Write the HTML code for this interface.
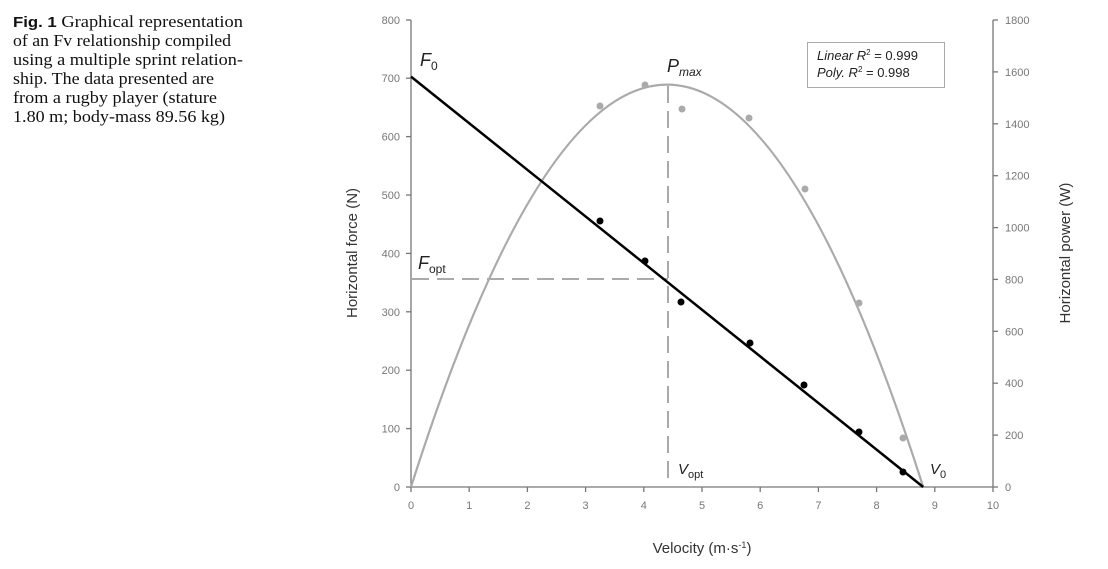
<!DOCTYPE html>
<html><head><meta charset="utf-8"><style>
html,body{margin:0;padding:0;background:#fff;}
body{width:1108px;height:564px;overflow:hidden;}
</style></head><body>
<svg width="1108" height="564" viewBox="0 0 1108 564" xmlns="http://www.w3.org/2000/svg">
<g font-family="Liberation Serif, serif" font-size="16.5" fill="#111" lengthAdjust="spacingAndGlyphs">
<text x="13" y="27" textLength="230" lengthAdjust="spacingAndGlyphs"><tspan font-family="Liberation Sans, sans-serif" font-weight="bold" font-size="15">Fig. 1</tspan>  Graphical representation</text>
<text x="13" y="46" textLength="218" lengthAdjust="spacingAndGlyphs">of an Fv relationship compiled</text>
<text x="13" y="65" textLength="230" lengthAdjust="spacingAndGlyphs">using a multiple sprint relation-</text>
<text x="13" y="84" textLength="201" lengthAdjust="spacingAndGlyphs">ship. The data presented are</text>
<text x="13" y="103" textLength="204" lengthAdjust="spacingAndGlyphs">from a rugby player (stature</text>
<text x="13" y="122" textLength="212" lengthAdjust="spacingAndGlyphs">1.80 m; body-mass 89.56 kg)</text>
</g>
<g stroke="#777" stroke-width="1.3" fill="none">
<line x1="411" y1="20" x2="411" y2="487"/>
<line x1="993" y1="20" x2="993" y2="487"/>
<line x1="411" y1="487" x2="993" y2="487"/>
<line x1="406" y1="487" x2="411" y2="487"/><line x1="406" y1="428.6" x2="411" y2="428.6"/><line x1="406" y1="370.2" x2="411" y2="370.2"/><line x1="406" y1="311.8" x2="411" y2="311.8"/><line x1="406" y1="253.4" x2="411" y2="253.4"/><line x1="406" y1="195" x2="411" y2="195"/><line x1="406" y1="136.6" x2="411" y2="136.6"/><line x1="406" y1="78.2" x2="411" y2="78.2"/><line x1="406" y1="20" x2="411" y2="20"/>
<line x1="993" y1="487" x2="998" y2="487"/><line x1="993" y1="435.1" x2="998" y2="435.1"/><line x1="993" y1="383.2" x2="998" y2="383.2"/><line x1="993" y1="331.3" x2="998" y2="331.3"/><line x1="993" y1="279.4" x2="998" y2="279.4"/><line x1="993" y1="227.6" x2="998" y2="227.6"/><line x1="993" y1="175.7" x2="998" y2="175.7"/><line x1="993" y1="123.8" x2="998" y2="123.8"/><line x1="993" y1="71.9" x2="998" y2="71.9"/><line x1="993" y1="20" x2="998" y2="20"/>
<line x1="411" y1="487" x2="411" y2="492"/><line x1="469.2" y1="487" x2="469.2" y2="492"/><line x1="527.4" y1="487" x2="527.4" y2="492"/><line x1="585.6" y1="487" x2="585.6" y2="492"/><line x1="643.8" y1="487" x2="643.8" y2="492"/><line x1="702" y1="487" x2="702" y2="492"/><line x1="760.2" y1="487" x2="760.2" y2="492"/><line x1="818.4" y1="487" x2="818.4" y2="492"/><line x1="876.6" y1="487" x2="876.6" y2="492"/><line x1="934.8" y1="487" x2="934.8" y2="492"/><line x1="993" y1="487" x2="993" y2="492"/>
</g>
<g font-family="Liberation Sans, sans-serif" font-size="11" fill="#777">
<g text-anchor="end">
<text x="400" y="491">0</text><text x="400" y="432.6">100</text><text x="400" y="374.2">200</text><text x="400" y="315.8">300</text><text x="400" y="257.4">400</text><text x="400" y="199">500</text><text x="400" y="140.6">600</text><text x="400" y="82.2">700</text><text x="400" y="24">800</text>
</g>
<text x="1005" y="491">0</text><text x="1005" y="439.1">200</text><text x="1005" y="387.2">400</text><text x="1005" y="335.3">600</text><text x="1005" y="283.4">800</text><text x="1005" y="231.6">1000</text><text x="1005" y="179.7">1200</text><text x="1005" y="127.8">1400</text><text x="1005" y="75.9">1600</text><text x="1005" y="24">1800</text>
<g text-anchor="middle">
<text x="411" y="509">0</text><text x="469.2" y="509">1</text><text x="527.4" y="509">2</text><text x="585.6" y="509">3</text><text x="643.8" y="509">4</text><text x="702" y="509">5</text><text x="760.2" y="509">6</text><text x="818.4" y="509">7</text><text x="876.6" y="509">8</text><text x="934.8" y="509">9</text><text x="993" y="509">10</text>
</g>
</g>
<g font-family="Liberation Sans, sans-serif" font-size="15" fill="#333" text-anchor="middle">
<text x="702" y="553">Velocity (m·s<tspan font-size="9" dy="-5">-1</tspan><tspan dy="5">)</tspan></text>
<text transform="translate(357,253) rotate(-90)">Horizontal force (N)</text>
<text transform="translate(1070,253) rotate(-90)">Horizontal power (W)</text>
</g>
<g stroke="#aaa" stroke-width="2" fill="none" stroke-dasharray="17,8">
<line x1="412" y1="279" x2="668" y2="279"/>
<line x1="668" y1="86" x2="668" y2="487"/>
</g>
<path d="M411,487 Q667,-317.7 923.2,487" stroke="#aaa" stroke-width="2.2" fill="none"/>
<g fill="#aaa">
<circle cx="600" cy="106" r="3.5"/><circle cx="645" cy="85" r="3.5"/><circle cx="682" cy="109" r="3.5"/><circle cx="749" cy="118" r="3.5"/><circle cx="805" cy="189" r="3.5"/><circle cx="859" cy="303" r="3.5"/><circle cx="903" cy="438" r="3.5"/>
</g>
<line x1="411" y1="76.6" x2="923.2" y2="487" stroke="#000" stroke-width="2.5"/>
<g fill="#000">
<circle cx="600" cy="221" r="3.5"/><circle cx="645" cy="261" r="3.5"/><circle cx="681" cy="302" r="3.5"/><circle cx="750" cy="343" r="3.5"/><circle cx="804" cy="385" r="3.5"/><circle cx="859" cy="432" r="3.5"/><circle cx="903" cy="472" r="3.5"/>
</g>
<g font-family="Liberation Sans, sans-serif" fill="#222">
<text x="420" y="66" font-size="18" font-style="italic">F<tspan font-size="12" font-style="normal" dy="4">0</tspan></text>
<text x="667" y="72" font-size="18" font-style="italic">P<tspan font-size="12" dy="4">max</tspan></text>
<text x="418" y="269" font-size="18" font-style="italic">F<tspan font-size="12" font-style="normal" dy="4">opt</tspan></text>
<text x="678" y="474" font-size="15" font-style="italic">V<tspan font-size="11" font-style="normal" dy="4">opt</tspan></text>
<text x="930" y="474" font-size="15" font-style="italic">V<tspan font-size="11" font-style="normal" dy="4">0</tspan></text>
</g>
<rect x="807.5" y="42.5" width="137" height="45" fill="#fff" stroke="#aaa" stroke-width="1"/>
<g font-family="Liberation Sans, sans-serif" font-size="13" fill="#222">
<text x="817" y="60"><tspan font-style="italic">Linear  R</tspan><tspan font-size="8" dy="-5">2</tspan><tspan dy="5"> = 0.999</tspan></text>
<text x="817" y="77"><tspan font-style="italic">Poly.  R</tspan><tspan font-size="8" dy="-5">2</tspan><tspan dy="5"> = 0.998</tspan></text>
</g>
</svg>
</body></html>
